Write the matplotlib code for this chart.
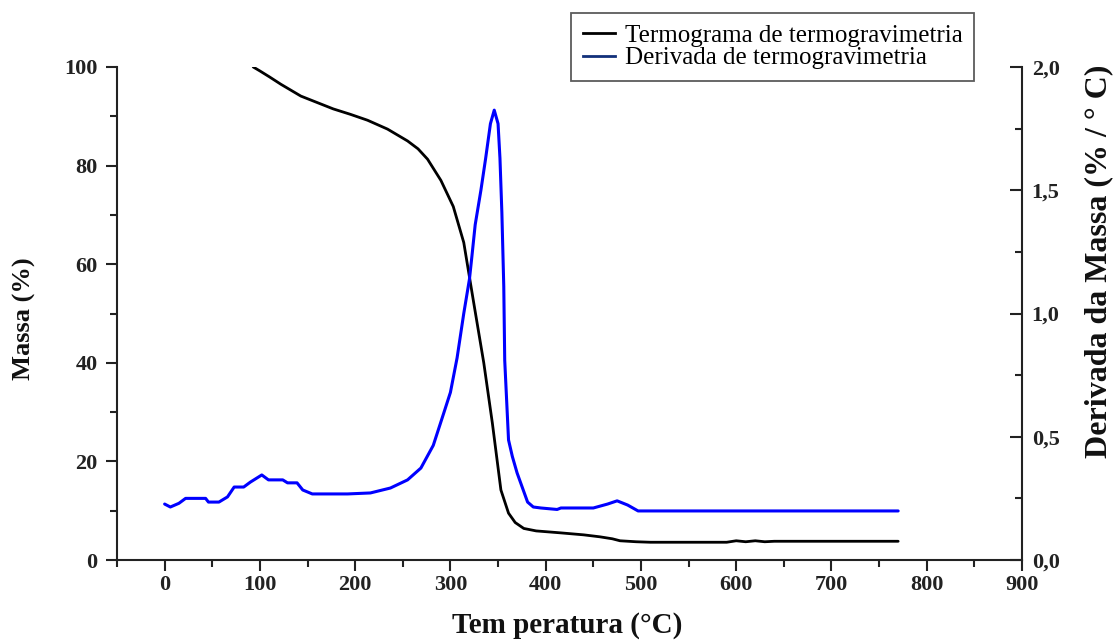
import matplotlib
matplotlib.use("Agg")
import matplotlib.pyplot as plt
from matplotlib.lines import Line2D
from matplotlib.ticker import MultipleLocator, FuncFormatter

plt.rcParams['font.family'] = ['Liberation Serif', 'DejaVu Serif']

# ---- data ----
tga_temp = [93, 100, 110, 122, 143, 160, 177, 195, 213, 234, 255, 266, 276, 290,
            303, 314, 324, 335, 344, 353, 361, 368, 377, 390, 416, 440, 457, 470,
            478, 495, 510, 590, 600, 610, 620, 630, 640, 700, 770]
tga_mass = [100.0, 99.2, 98.0, 96.5, 94.1, 92.8, 91.5, 90.4, 89.2, 87.4, 85.0, 83.4,
            81.3, 77.0, 71.7, 64.4, 52.7, 40.0, 27.8, 14.2, 9.5, 7.6, 6.4, 5.9, 5.5,
            5.1, 4.7, 4.3, 3.9, 3.7, 3.6, 3.6, 3.9, 3.7, 3.9, 3.7, 3.8, 3.8, 3.8]

dtg_temp = [0, 6, 15, 22, 43, 46, 57, 66, 73, 83, 90, 102, 109, 124, 129, 139, 145,
            155, 192, 216, 237, 255, 269, 282, 293, 300, 307, 314, 320, 322.5, 326,
            332, 337, 342, 346, 350, 352, 354, 356, 357, 361, 365, 370, 381, 387,
            395, 412, 416, 430, 450, 465, 475, 486, 497, 600, 700, 770]
dtg_rate = [0.227, 0.215, 0.230, 0.250, 0.250, 0.235, 0.235, 0.256, 0.296, 0.296,
            0.316, 0.345, 0.325, 0.325, 0.313, 0.313, 0.284, 0.268, 0.268, 0.272,
            0.292, 0.325, 0.373, 0.465, 0.596, 0.68, 0.82, 1.00, 1.14, 1.23, 1.36,
            1.50, 1.63, 1.77, 1.825, 1.77, 1.63, 1.41, 1.11, 0.81, 0.487, 0.42,
            0.353, 0.235, 0.215, 0.211, 0.205, 0.211, 0.211, 0.211, 0.227, 0.240,
            0.223, 0.199, 0.199, 0.199, 0.199]

x_ticks = [0, 100, 200, 300, 400, 500, 600, 700, 800, 900]
mass_ticks = [0, 20, 40, 60, 80, 100]
rate_ticks = [0.0, 0.5, 1.0, 1.5, 2.0]

label_tga = "Termograma de termogravimetria"
label_dtg = "Derivada de termogravimetria"
xlabel = "Tem peratura (°C)"
ylabel_left = "Massa (%)"
ylabel_right = "Derivada da Massa (% / ° C)"

# ---- figure ----
W, H = 1113, 640
fig = plt.figure(figsize=(W / 100, H / 100), dpi=100)
ax = fig.add_axes([117 / W, 80 / H, 905 / W, 493 / H])
ax2 = ax.twinx()

ax.plot(tga_temp, tga_mass, color='black', lw=2.0, solid_capstyle='round')
ax2.plot(dtg_temp, dtg_rate, color='#0000ff', lw=2.2, solid_capstyle='round')

ax.set_xlim(-50, 900)
ax.set_ylim(0, 100)
ax2.set_ylim(0, 2.0)

spine_c = '#222222'
for a in (ax, ax2):
    a.spines['top'].set_visible(False)
    for s in ('left', 'right', 'bottom'):
        a.spines[s].set_color(spine_c)
        a.spines[s].set_linewidth(1.5)
ax.spines['right'].set_visible(False)
ax2.spines['left'].set_visible(False)
ax2.spines['bottom'].set_visible(False)

ax.set_xticks(x_ticks)
ax.xaxis.set_minor_locator(MultipleLocator(50))
ax.set_yticks(mass_ticks)
ax.yaxis.set_minor_locator(MultipleLocator(10))
ax2.set_yticks(rate_ticks)
ax2.yaxis.set_minor_locator(MultipleLocator(0.25))
ax2.yaxis.set_major_formatter(FuncFormatter(lambda v, p: f"{v:.1f}".replace('.', ',')))

ax.tick_params(axis='both', which='major', direction='out', length=8, width=1.5,
               color=spine_c, labelsize=16, labelcolor='#222222')
ax.tick_params(axis='both', which='minor', direction='out', length=5, width=1.5,
               color=spine_c)
ax.tick_params(axis='y', which='major', pad=6)
ax.tick_params(axis='x', which='major', pad=3)
ax2.tick_params(axis='y', which='major', direction='in', length=9, width=1.5,
                color=spine_c, labelsize=16, labelcolor='#222222', pad=7)
ax2.tick_params(axis='y', which='minor', direction='in', length=5, width=1.5,
                color=spine_c)
for lab in ax.get_xticklabels() + ax.get_yticklabels() + ax2.get_yticklabels():
    lab.set_fontweight('bold')

ax.set_xlabel(xlabel, fontsize=21, fontweight='bold', color='#111111')
ax.xaxis.set_label_coords(0.497, -0.106)
ax.set_ylabel(ylabel_left, fontsize=19, fontweight='bold', color='#111111')
ax.yaxis.label.set_verticalalignment('center')
ax.yaxis.set_label_coords(-0.102, 0.49)
ax2.set_ylabel(ylabel_right, fontsize=23, fontweight='bold', color='#111111')
ax2.yaxis.label.set_verticalalignment('center')
ax2.yaxis.set_label_coords(1.085, 0.605)

handles = [Line2D([], [], color='black', lw=2.0),
           Line2D([], [], color='#12307a', lw=2.0)]
leg = fig.legend(handles, [label_tga, label_dtg], loc='upper right',
                 bbox_to_anchor=(974 / W, 1 - 13 / H), borderaxespad=0,
                 fontsize=18, frameon=True, fancybox=False, handlelength=1.3,
                 handletextpad=0.4, labelspacing=0.0, borderpad=0.45)
leg.get_frame().set_edgecolor('#333333')
leg.get_frame().set_linewidth(1.3)

fig.savefig("out.png", dpi=100)
